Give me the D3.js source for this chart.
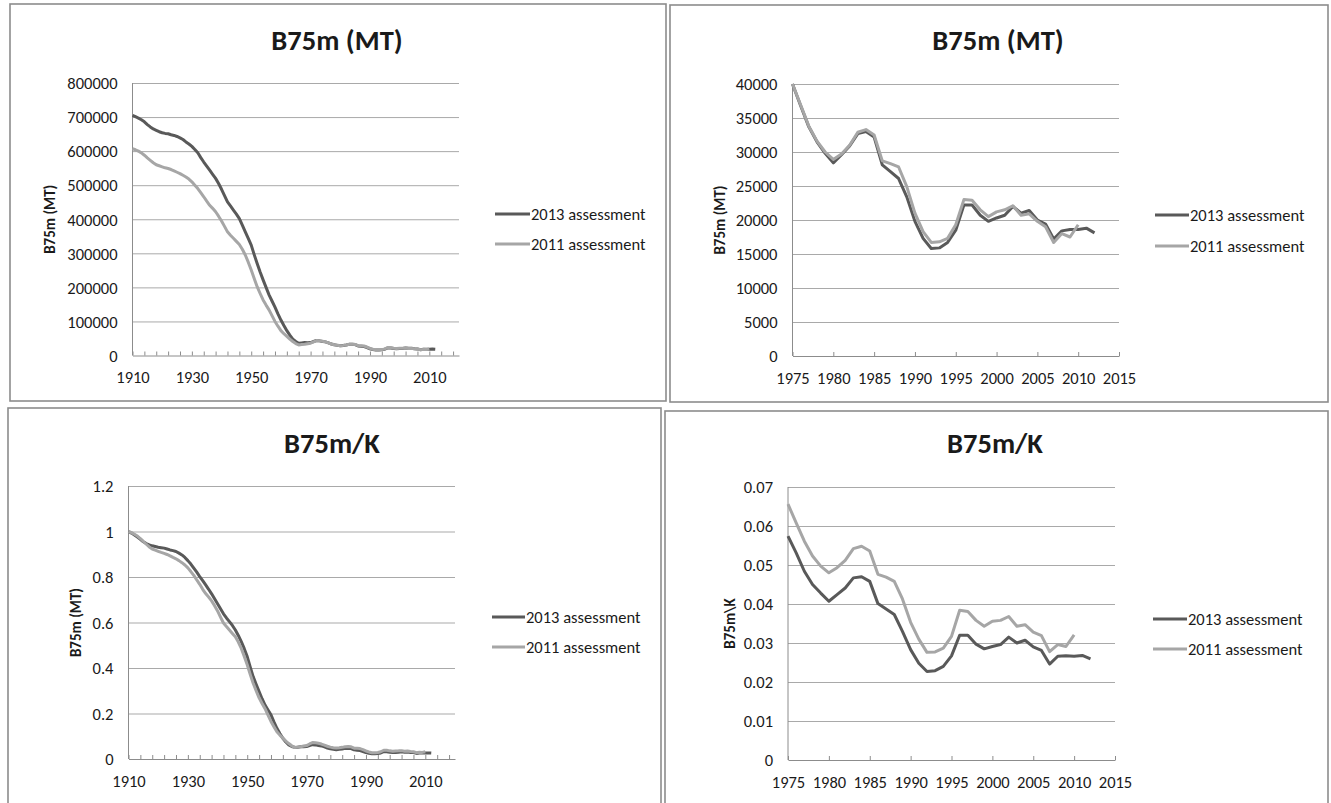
<!DOCTYPE html>
<html><head><meta charset="utf-8">
<script src="https://cdn.jsdelivr.net/npm/d3@7"></script>
<style>
body{margin:0;background:#fff}
svg{display:block}
text{font-family:Calibri, Carlito, Lato, sans-serif;fill:#1a1a1a}
</style>
</head><body>
<svg id="chart" width="1331" height="803"></svg>
<script>
// ---------------- DATA ----------------
const seriesNames = ["2013 assessment", "2011 assessment"];
const longStartYear = 1910;
const shortStartYear = 1975;

// B75m (MT), 1910-2012 (2013 assessment)
const b75mLong2013 = [
705000,701000,697000,692000,686000,678000,671000,665000,661000,657000,
654000,652000,651000,648000,646000,643000,639000,634000,627000,621000,
614000,605000,595000,581000,568000,556000,544000,532000,520000,505000,
488000,469000,451000,439000,427000,415000,402000,383000,363000,344000,
324000,296000,270000,245000,222000,200000,178000,160000,142000,122000,
104000,88000,73000,60000,48000,41000,36000,37000,38000,37500,
38000,41000,44000,43000,41000,
40000,36800,33700,31500,29800,28400,29600,30900,32700,33000,
32200,28100,27100,26100,23400,19800,17300,15800,15900,16700,
18500,22200,22200,20700,19800,20300,20700,22000,21000,21400,
20000,19400,17200,18400,18600,18600,18800,18100];

// B75m (MT), 1910-2010 (2011 assessment)
const b75mLong2011 = [
607000,604000,600000,595000,588000,580000,573000,566000,560000,557000,
554000,551000,549000,546000,542000,538000,534000,529000,524000,518000,
510000,500000,490000,478000,466000,453000,441000,432000,422000,409000,
395000,379000,363000,353000,344000,335000,326000,312000,295000,274000,
251000,226000,202000,182000,163000,148000,134000,117000,100000,86000,
73000,64000,56000,48000,41000,35000,31000,32000,33000,34500,
36000,40000,44000,43500,42000,
40000,36900,33800,31600,30000,28900,29700,31000,32900,33300,
32500,28700,28300,27800,24900,21000,18300,16700,16800,17300,
19300,23000,22900,21500,20500,21200,21500,22100,20700,20900,
19800,19000,16700,18000,17500,19300];

// B75m (MT), 1975-2012 (2013 assessment)
const b75mShort2013 = [
40000,36800,33700,31500,29800,28400,29600,30900,32700,33000,
32200,28100,27100,26100,23400,19800,17300,15800,15900,16700,
18500,22200,22200,20700,19800,20300,20700,22000,21000,21400,
20000,19400,17200,18400,18600,18600,18800,18100];

// B75m (MT), 1975-2010 (2011 assessment)
const b75mShort2011 = [
40000,36900,33800,31600,30000,28900,29700,31000,32900,33300,
32500,28700,28300,27800,24900,21000,18300,16700,16800,17300,
19300,23000,22900,21500,20500,21200,21500,22100,20700,20900,
19800,19000,16700,18000,17500,19300];

// B75m/K, 1910-2012 (2013 assessment)
const ratioLong2013 = [
1.000,0.993,0.985,0.976,0.966,0.955,0.947,0.941,0.937,0.934,
0.931,0.929,0.927,0.923,0.919,0.916,0.912,0.905,0.897,0.886,
0.872,0.857,0.839,0.821,0.802,0.784,0.765,0.746,0.726,0.704,
0.682,0.660,0.638,0.620,0.604,0.587,0.567,0.543,0.516,0.485,
0.450,0.405,0.362,0.328,0.296,0.265,0.237,0.215,0.194,0.163,
0.135,0.112,0.091,0.075,0.062,0.055,0.051,0.052,0.054,0.054,
0.055,0.059,0.063,0.062,0.059,
0.0574,0.0531,0.0484,0.0450,0.0428,0.0407,0.0424,0.0441,0.0467,0.0470,
0.0458,0.0401,0.0387,0.0373,0.0330,0.0283,0.0248,0.0227,0.0229,0.0240,
0.0267,0.0320,0.0320,0.0297,0.0285,0.0291,0.0296,0.0315,0.0300,0.0307,
0.0290,0.0281,0.0246,0.0266,0.0267,0.0266,0.0268,0.0259];

// B75m/K, 1910-2010 (2011 assessment)
const ratioLong2011 = [
1.000,0.995,0.988,0.980,0.969,0.956,0.944,0.932,0.923,0.918,
0.913,0.908,0.904,0.899,0.893,0.886,0.880,0.872,0.863,0.853,
0.840,0.824,0.807,0.787,0.768,0.746,0.727,0.712,0.695,0.674,
0.651,0.624,0.598,0.582,0.567,0.552,0.537,0.514,0.486,0.451,
0.414,0.372,0.333,0.300,0.269,0.244,0.221,0.193,0.165,0.142,
0.120,0.105,0.092,0.079,0.068,0.058,0.051,0.053,0.054,0.057,
0.059,0.066,0.072,0.071,0.069,
0.0656,0.0608,0.0561,0.0523,0.0497,0.0480,0.0493,0.0512,0.0542,0.0548,
0.0536,0.0476,0.0469,0.0458,0.0413,0.0353,0.0310,0.0276,0.0277,0.0287,
0.0317,0.0384,0.0381,0.0358,0.0343,0.0356,0.0358,0.0368,0.0343,0.0347,
0.0328,0.0319,0.0278,0.0296,0.0291,0.0321];

// B75m/K, 1975-2012 (2013 assessment)
const ratioShort2013 = [
0.0574,0.0531,0.0484,0.0450,0.0428,0.0407,0.0424,0.0441,0.0467,0.0470,
0.0458,0.0401,0.0387,0.0373,0.0330,0.0283,0.0248,0.0227,0.0229,0.0240,
0.0267,0.0320,0.0320,0.0297,0.0285,0.0291,0.0296,0.0315,0.0300,0.0307,
0.0290,0.0281,0.0246,0.0266,0.0267,0.0266,0.0268,0.0259];

// B75m/K, 1975-2010 (2011 assessment)
const ratioShort2011 = [
0.0656,0.0608,0.0561,0.0523,0.0497,0.0480,0.0493,0.0512,0.0542,0.0548,
0.0536,0.0476,0.0469,0.0458,0.0413,0.0353,0.0310,0.0276,0.0277,0.0287,
0.0317,0.0384,0.0381,0.0358,0.0343,0.0356,0.0358,0.0368,0.0343,0.0347,
0.0328,0.0319,0.0278,0.0296,0.0291,0.0321];

// tick values / labels
const longXTicks = [1910,1914,1918,1922,1926,1930,1934,1938,1942,1946,1950,1954,1958,1962,1966,1970,1974,1978,1982,1986,1990,1994,1998,2002,2006,2010,2014,2018];
const longXLabels = [1910,1930,1950,1970,1990,2010];
const shortXTicks = [1975,1980,1985,1990,1995,2000,2005,2010,2015];
const shortXLabels = [1975,1980,1985,1990,1995,2000,2005,2010,2015];
const yTicksP1 = [0,100000,200000,300000,400000,500000,600000,700000,800000];
const yTicksP2 = [0,5000,10000,15000,20000,25000,30000,35000,40000];
const yTicksP3 = [0,0.2,0.4,0.6,0.8,1,1.2];
const yTicksP4 = [0,0.01,0.02,0.03,0.04,0.05,0.06,0.07];
const titles = ["B75m (MT)", "B75m (MT)", "B75m/K", "B75m/K"];
const yTitles = ["B75m (MT)", "B75m (MT)", "B75m (MT)", "B75m\\K"];

// ---------------- LAYOUT ----------------
const colors = ["#595959", "#a6a6a6"];
const panels = [
  {box:[10,4,656,397], plot:[132.5,459,83,355.5], xDom:[1910,2020], yDom:[0,800000],
   xTicks:longXTicks, xLabels:longXLabels, yTicks:yTicksP1, start:longStartYear,
   series:[b75mLong2013,b75mLong2011], title:titles[0], titleY:50, titleX:337,
   yTitle:yTitles[0], yTitleX:50, legend:[495,530,214,244]},
  {box:[670,5,658,397], plot:[792.5,1119,84,356], xDom:[1975,2015], yDom:[0,40000],
   xTicks:shortXTicks, xLabels:shortXLabels, yTicks:yTicksP2, start:shortStartYear,
   series:[b75mShort2013,b75mShort2011], title:titles[1], titleY:50, titleX:998,
   yTitle:yTitles[1], yTitleX:720, legend:[1155,1189,215,246]},
  {box:[8,408,653,400], plot:[128.5,455,486,759], xDom:[1910,2020], yDom:[0,1.2],
   xTicks:longXTicks, xLabels:longXLabels, yTicks:yTicksP3, start:longStartYear,
   series:[ratioLong2013,ratioLong2011], title:titles[2], titleY:453, titleX:332,
   yTitle:yTitles[2], yTitleX:76, legend:[492,525,617,647]},
  {box:[665,411,663,400], plot:[788,1115,487,760], xDom:[1975,2015], yDom:[0,0.07],
   xTicks:shortXTicks, xLabels:shortXLabels, yTicks:yTicksP4, start:shortStartYear,
   series:[ratioShort2013,ratioShort2011], title:titles[3], titleY:453, titleX:995,
   yTitle:yTitles[3], yTitleX:730, legend:[1153,1187,619,649]}
];

const tickFont = "16.5px";

const svg = d3.select("#chart");
svg.append("rect").attr("width",1331).attr("height",803).attr("fill","#fff");

panels.forEach(p => {
  const g = svg.append("g");
  g.append("rect").attr("x",p.box[0]).attr("y",p.box[1]).attr("width",p.box[2]).attr("height",p.box[3])
    .attr("fill","#fff").attr("stroke","#8c8c8c").attr("stroke-width",1.6);

  const [x0,x1,yTop,yBot] = p.plot;
  const x = d3.scaleLinear().domain(p.xDom).range([x0,x1]);
  const y = d3.scaleLinear().domain(p.yDom).range([yBot,yTop]);

  // gridlines
  g.append("g").attr("transform",`translate(${x0},0)`)
    .call(d3.axisLeft(y).tickValues(p.yTicks.filter(v=>v>0)).tickSize(-(x1-x0)).tickFormat(""))
    .call(s=>s.select(".domain").remove())
    .call(s=>s.selectAll("line").attr("stroke","#a9a9a9").attr("stroke-width",1));

  // y axis labels
  g.append("g").attr("transform",`translate(${x0-12},0)`)
    .call(d3.axisLeft(y).tickValues(p.yTicks).tickSize(0).tickFormat(d=>String(d)))
    .call(s=>s.select(".domain").remove())
    .call(s=>s.selectAll("text").attr("font-size",tickFont).attr("fill","#1a1a1a").attr("dy","0.35em"));

  // y axis line
  g.append("line").attr("x1",x0).attr("x2",x0).attr("y1",yTop).attr("y2",yBot)
    .attr("stroke","#8c8c8c").attr("stroke-width",1);

  // x axis: ticks inside (upwards)
  g.append("g").attr("transform",`translate(0,${yBot})`)
    .call(d3.axisBottom(x).tickValues(p.xTicks).tickSize(-4).tickSizeOuter(0).tickFormat(""))
    .call(s=>s.select(".domain").attr("stroke","#8c8c8c"))
    .call(s=>s.selectAll("line").attr("stroke","#8c8c8c"));
  g.append("g").attr("transform",`translate(0,${yBot})`)
    .call(d3.axisBottom(x).tickValues(p.xLabels).tickSize(0).tickPadding(16).tickFormat(d3.format("d")))
    .call(s=>s.select(".domain").remove())
    .call(s=>s.selectAll("text").attr("font-size",tickFont).attr("fill","#1a1a1a"));

  // lines
  const line = d3.line().x((d,i)=>x(p.start+i)).y(d=>y(d));
  p.series.forEach((s,k)=>{
    g.append("path").datum(s).attr("d",line).attr("fill","none")
      .attr("stroke",colors[k]).attr("stroke-width",3).attr("stroke-linejoin","round");
  });

  // title
  g.append("text").attr("x",p.titleX).attr("y",p.titleY).attr("text-anchor","middle")
    .attr("font-size","28.5px").attr("font-weight","bold").attr("fill","#000").text(p.title);

  // y title
  const cy = (yTop+yBot)/2;
  g.append("text").attr("transform",`translate(${p.yTitleX},${cy}) rotate(-90)`)
    .attr("text-anchor","middle").attr("dy","0.35em")
    .attr("font-size","15px").attr("font-weight","bold").attr("fill","#000").text(p.yTitle);

  // legend
  const [lx0,lx1,ly0,ly1] = p.legend;
  [ly0,ly1].forEach((ly,k)=>{
    g.append("line").attr("x1",lx0).attr("x2",lx1).attr("y1",ly).attr("y2",ly)
      .attr("stroke",colors[k]).attr("stroke-width",3);
    g.append("text").attr("x",lx1+1).attr("y",ly).attr("dy","0.35em")
      .attr("font-size",tickFont).attr("fill","#1a1a1a").text(seriesNames[k]);
  });
});
</script>
</body></html>
